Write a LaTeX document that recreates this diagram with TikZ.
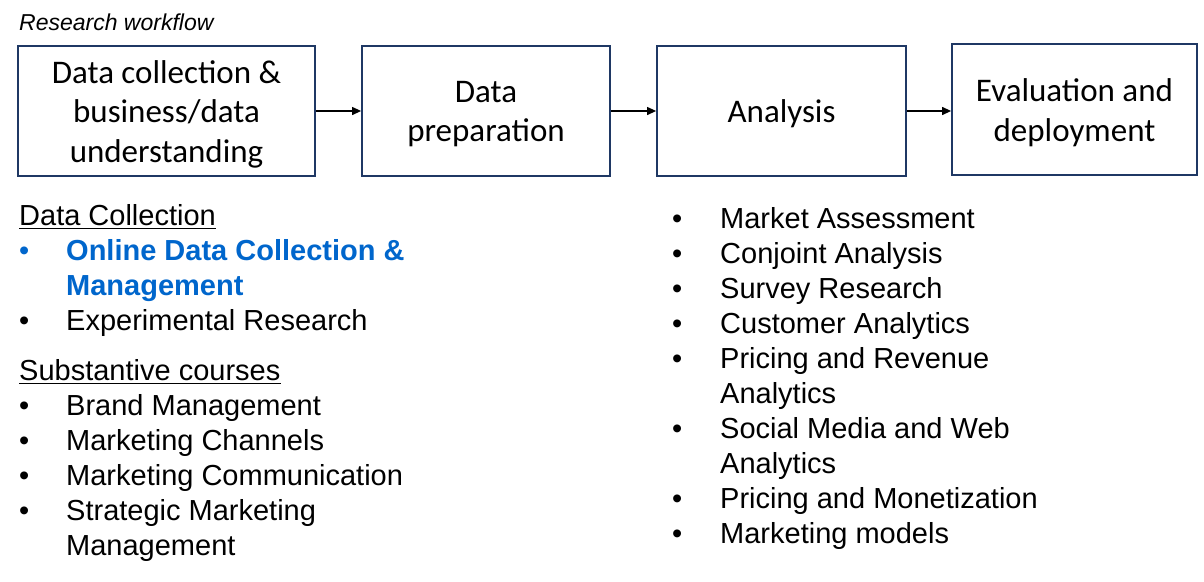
\documentclass[tikz,border=0pt]{standalone}
\usepackage{fontspec}
\setmainfont{Liberation Sans}
\newfontfamily\boxfont{Carlito}
\usetikzlibrary{arrows.meta,calc}
\definecolor{boxline}{HTML}{1F3864}
\definecolor{hiblue}{HTML}{0066CC}
\begin{document}
\begin{tikzpicture}[x=1pt,y=-1pt,
  stage/.style={draw=boxline,line width=1.8pt,inner sep=0pt},
  stagetext/.style={align=center,inner sep=0pt,yshift=-3pt,
    font=\boxfont\fontsize{33}{39.5}\selectfont},
  item/.style={anchor=base west,inner sep=0pt,font=\fontsize{29}{35}\selectfont},
  flow/.style={-{Triangle[length=9pt,width=8pt]},line width=1.2pt,black},
  uline/.style={line width=1.6pt}]
\useasboundingbox (0,0) rectangle (1204,581);
\node[anchor=base west,inner sep=0pt,font=\itshape\fontsize{23}{27}\selectfont] (title) at (19,30) {Research workflow};
\node[stage,minimum width=297pt,minimum height=130pt,label={[stagetext]center:{Data collection \&\\business/data\\understanding}}] (b1) at (166.5,111) {};
\node[stage,minimum width=248pt,minimum height=130pt,label={[stagetext]center:{Data\\preparation}}] (b2) at (486,111) {};
\node[stage,minimum width=249pt,minimum height=130pt,label={[stagetext]center:{Analysis}}] (b3) at (781.5,111) {};
\node[stage,minimum width=245pt,minimum height=131pt,label={[stagetext]center:{Evaluation and\\deployment}}] (b4) at (1074.5,109.5) {};
\draw[flow] (b1.east) -- (b2.west);
\draw[flow] (b2.east) -- (b3.west);
\draw[flow] (b3.east |- 0,111) -- (b4.west |- 0,111);
% left column
\node[item] (h1) at (19,225) {Data Collection};
\draw[uline] ([yshift=-3.5pt]h1.base west) -- ([yshift=-3.5pt]h1.base east);
\node[item,text=hiblue] (l1b) at (19,260) {•};
\node[item,text=hiblue,font=\bfseries\fontsize{29}{35}\selectfont] (l1) at (66,260) {Online Data Collection \&};
\node[item,text=hiblue,font=\bfseries\fontsize{29}{35}\selectfont] (l1c) at (66,295) {Management};
\node[item] (l2b) at (19,330) {•};
\node[item] (l2) at (66,330) {Experimental Research};
\node[item] (h2) at (19,380) {Substantive courses};
\draw[uline] ([yshift=-3.5pt]h2.base west) -- ([yshift=-3.5pt]h2.base east);
\node[item] (l3b) at (19,415) {•};
\node[item] (l3) at (66,415) {Brand Management};
\node[item] (l4b) at (19,450) {•};
\node[item] (l4) at (66,450) {Marketing Channels};
\node[item] (l5b) at (19,485) {•};
\node[item] (l5) at (66,485) {Marketing Communication};
\node[item] (l6b) at (19,520) {•};
\node[item] (l6) at (66,520) {Strategic Marketing};
\node[item] (l6c) at (66,555) {Management};
% right column
\node[item] (r1b) at (672,228) {•};
\node[item] (r1) at (720,228) {Market Assessment};
\node[item] (r2b) at (672,263) {•};
\node[item] (r2) at (720,263) {Conjoint Analysis};
\node[item] (r3b) at (672,298) {•};
\node[item] (r3) at (720,298) {Survey Research};
\node[item] (r4b) at (672,333) {•};
\node[item] (r4) at (720,333) {Customer Analytics};
\node[item] (r5b) at (672,368) {•};
\node[item] (r5) at (720,368) {Pricing and Revenue};
\node[item] (r5c) at (720,403) {Analytics};
\node[item] (r6b) at (672,438) {•};
\node[item] (r6) at (720,438) {Social Media and Web};
\node[item] (r6c) at (720,473) {Analytics};
\node[item] (r7b) at (672,508) {•};
\node[item] (r7) at (720,508) {Pricing and Monetization};
\node[item] (r8b) at (672,543) {•};
\node[item] (r8) at (720,543) {Marketing models};
\end{tikzpicture}
\end{document}
